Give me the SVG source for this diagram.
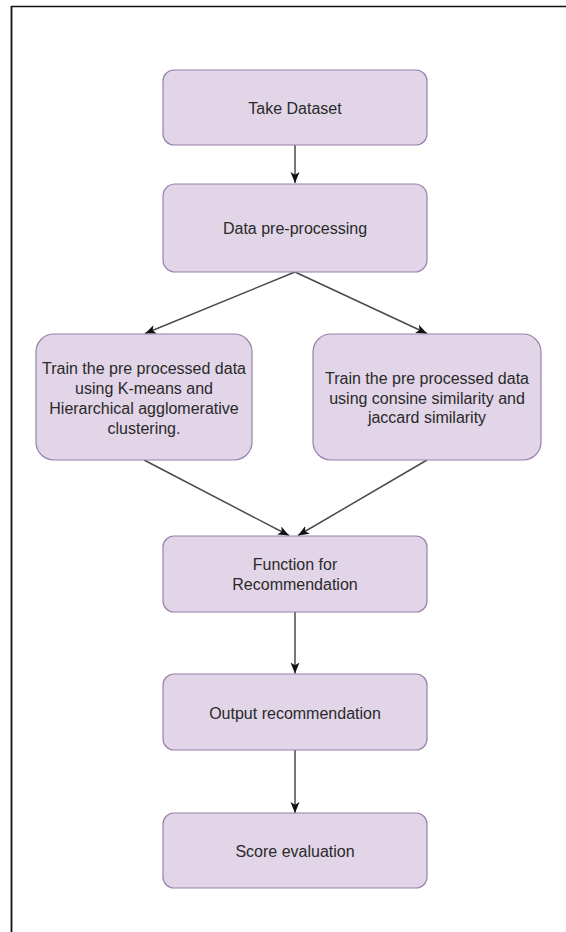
<svg xmlns="http://www.w3.org/2000/svg" width="566" height="932" viewBox="0 0 566 932">
<style>
.box{fill:#e1d5e7;stroke:#9a80aa;stroke-width:1.2}
.lbl{font-family:"Liberation Sans",Arial,sans-serif;font-size:16px;fill:#2a2a2a;text-anchor:middle}
.edge{stroke:#4a4a4a;stroke-width:1.5;fill:none}
</style>
<defs>
<marker id="arr" markerUnits="userSpaceOnUse" markerWidth="13" markerHeight="11" refX="11" refY="4.5" orient="auto">
<path d="M0,0 L11,4.5 L0,9 L2.8,4.5 z" fill="#111111"/>
</marker>
</defs>
<rect x="0" y="0" width="566" height="932" fill="#ffffff"/>
<g id="frame">
<line x1="11.5" y1="6.5" x2="566" y2="6.5" stroke="#111111" stroke-width="1.5"/>
<line x1="11.5" y1="6" x2="11.5" y2="932" stroke="#111111" stroke-width="1.8"/>
</g>
<g id="connectors">
<line class="edge" x1="295" y1="145" x2="295" y2="183" marker-end="url(#arr)"/>
<line class="edge" x1="295" y1="272" x2="145" y2="333.5" marker-end="url(#arr)"/>
<line class="edge" x1="295" y1="272" x2="427" y2="333.5" marker-end="url(#arr)"/>
<line class="edge" x1="144" y1="460" x2="289" y2="535.5" marker-end="url(#arr)"/>
<line class="edge" x1="427" y1="460" x2="298" y2="535.5" marker-end="url(#arr)"/>
<line class="edge" x1="295" y1="612" x2="295" y2="673.5" marker-end="url(#arr)"/>
<line class="edge" x1="295" y1="750" x2="295" y2="813" marker-end="url(#arr)"/>
</g>
<g id="take-dataset">
<rect class="box" x="163" y="70" width="264" height="75" rx="11"/>
<text class="lbl" x="295" y="113.5">Take Dataset</text>
</g>
<g id="data-preprocessing">
<rect class="box" x="163" y="184" width="264" height="88" rx="12"/>
<text class="lbl" x="295" y="233.5">Data pre-processing</text>
</g>
<g id="train-kmeans">
<rect class="box" x="36" y="334" width="216" height="126" rx="18"/>
<text class="lbl" x="144" y="374">Train the pre processed data</text>
<text class="lbl" x="144" y="394">using K-means and</text>
<text class="lbl" x="144" y="414">Hierarchical agglomerative</text>
<text class="lbl" x="144" y="434">clustering.</text>
</g>
<g id="train-similarity">
<rect class="box" x="313" y="334" width="228" height="126" rx="18"/>
<text class="lbl" x="427" y="384">Train the pre processed data</text>
<text class="lbl" x="427" y="404">using consine similarity and</text>
<text class="lbl" x="427" y="423">jaccard similarity</text>
</g>
<g id="function-recommendation">
<rect class="box" x="163" y="536" width="264" height="76" rx="11"/>
<text class="lbl" x="295" y="570">Function for</text>
<text class="lbl" x="295" y="590">Recommendation</text>
</g>
<g id="output-recommendation">
<rect class="box" x="163" y="674" width="264" height="76" rx="11"/>
<text class="lbl" x="295" y="718.5">Output recommendation</text>
</g>
<g id="score-evaluation">
<rect class="box" x="163" y="813" width="264" height="75" rx="11"/>
<text class="lbl" x="295" y="856.5">Score evaluation</text>
</g>
</svg>
